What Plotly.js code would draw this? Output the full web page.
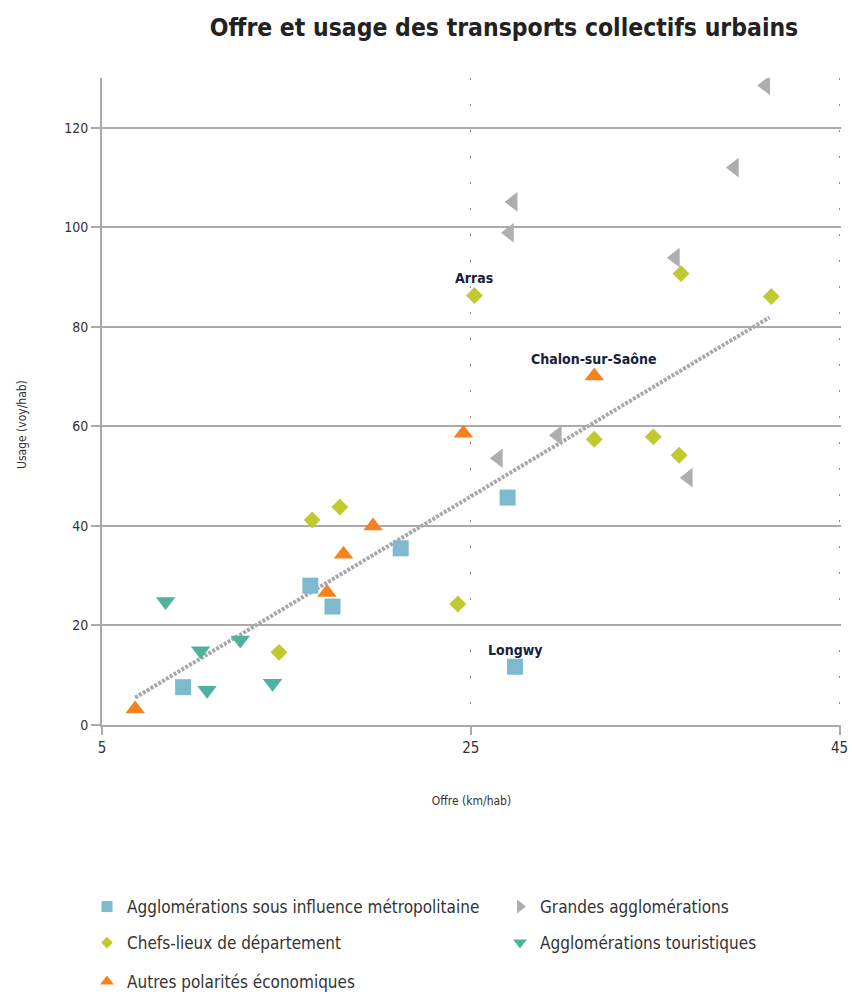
<!DOCTYPE html>
<html>
<head>
<meta charset="utf-8">
<script src="https://cdn.plot.ly/plotly-3.0.1.min.js"></script>
<style>html,body{margin:0;padding:0;background:#fff;}#chart{width:852px;height:994px;}</style>
</head>
<body>
<div id="chart"></div>
<script>
// Series names
const seriesNames = [
  "Agglomérations sous influence métropolitaine",
  "Grandes agglomérations",
  "Chefs-lieux de département",
  "Agglomérations touristiques",
  "Autres polarités économiques"
];
// Agglomérations sous influence métropolitaine
const metroX = [9.4, 16.3, 17.5, 21.2, 27.0, 27.4];
const metroY = [7.6, 28.0, 23.8, 35.5, 45.7, 11.7];
// Grandes agglomérations
const grandesX = [41.0, 39.3, 27.3, 27.1, 36.1, 29.7, 26.5, 36.8];
const grandesY = [128.5, 112.0, 105.1, 98.9, 93.9, 58.2, 53.6, 49.7];
// Chefs-lieux de département
const chefsX = [16.4, 17.9, 14.6, 24.3, 25.2, 36.4, 41.3, 31.7, 34.9, 36.3];
const chefsY = [41.2, 43.8, 14.6, 24.3, 86.3, 90.7, 86.1, 57.4, 57.9, 54.2];
// Agglomérations touristiques
const touristX = [8.45, 10.35, 10.7, 12.5, 14.25];
const touristY = [24.8, 14.9, 7.0, 17.1, 8.4];
// Autres polarités économiques
const autresX = [6.8, 17.2, 18.1, 19.7, 24.6, 31.7];
const autresY = [3.2, 26.6, 34.3, 40.0, 58.6, 70.1];
// Trend line (end points)
const trendX = [6.8, 41.2];
const trendY = [5.5, 81.9];
// Labelled points
const labelText = ["Arras", "Chalon-sur-Saône", "Longwy"];
const labelX = [25.2, 31.7, 27.4];
const labelY = [86.3, 70.1, 11.7];
// Axis ticks and titles
const xTicks = [5, 25, 45];
const yTicks = [0, 20, 40, 60, 80, 100, 120];
const xTitle = "Offre (km/hab)";
const yTitle = "Usage (voy/hab)";

const FONT = "'Liberation Sans Narrow', 'DejaVu Sans Condensed', 'Arial Narrow', sans-serif";
const colors = {
  metro: "#7dbacd",
  grandes: "#adaeb0",
  chefs: "#bfca2f",
  tourist: "#4fb29c",
  autres: "#f5821f"
};

const traces = [
  {x: trendX, y: trendY, mode: "lines", type: "scatter", showlegend: false, hoverinfo: "skip",
   line: {color: "#a8a8a8", width: 4, dash: "3px,1.5px"}},
  {x: metroX, y: metroY, mode: "markers", type: "scatter", name: seriesNames[0], showlegend: false,
   marker: {symbol: "square", size: 16, color: colors.metro}},
  {x: grandesX, y: grandesY, mode: "markers", type: "scatter", name: seriesNames[1], showlegend: false,
   marker: {symbol: "triangle-left", size: 17, color: colors.grandes}},
  {x: chefsX, y: chefsY, mode: "markers", type: "scatter", name: seriesNames[2], showlegend: false,
   marker: {symbol: "diamond", size: 13, color: colors.chefs}},
  {x: touristX, y: touristY, mode: "markers", type: "scatter", name: seriesNames[3], showlegend: false,
   marker: {symbol: "triangle-down", size: 17, color: colors.tourist}},
  {x: autresX, y: autresY, mode: "markers", type: "scatter", name: seriesNames[4], showlegend: false,
   marker: {symbol: "triangle-up", size: 17, color: colors.autres}},
  // legend entries
  {x: [null], y: [null], mode: "markers", type: "scatter", name: seriesNames[0], legend: "legend",
   marker: {symbol: "square", size: 11, color: colors.metro}},
  {x: [null], y: [null], mode: "markers", type: "scatter", name: seriesNames[1], legend: "legend2",
   marker: {symbol: "triangle-right", size: 12, color: colors.grandes}},
  {x: [null], y: [null], mode: "markers", type: "scatter", name: seriesNames[2], legend: "legend3",
   marker: {symbol: "diamond", size: 9, color: colors.chefs}},
  {x: [null], y: [null], mode: "markers", type: "scatter", name: seriesNames[3], legend: "legend4",
   marker: {symbol: "triangle-down", size: 12, color: colors.tourist}},
  {x: [null], y: [null], mode: "markers", type: "scatter", name: seriesNames[4], legend: "legend5",
   marker: {symbol: "triangle-up", size: 12, color: colors.autres}}
];

function legendAt(px, py) {
  return {
    orientation: "v", xref: "container", yref: "container", x: px / 852, y: 1 - py / 994,
    xanchor: "left", yanchor: "middle",
    font: {family: FONT, size: 17, color: "#333"},
    bgcolor: "rgba(0,0,0,0)", borderwidth: 0
  };
}

const annotations = labelText.map((t, i) => ({
  x: labelX[i], y: labelY[i], xref: "x", yref: "y", text: "<b>" + t + "</b>", showarrow: false,
  yshift: 17, font: {family: FONT, size: 14, color: "#14213d"}
}));
annotations.push({
  text: yTitle, textangle: -90, showarrow: false, xref: "paper", yref: "paper",
  x: (22 - 102) / 739, y: (725 - 425) / 647, xanchor: "center", yanchor: "middle",
  font: {family: FONT, size: 12, color: "#333"}
});

const layout = {
  width: 852, height: 994,
  margin: {l: 102, r: 11, t: 78, b: 269, autoexpand: false},
  paper_bgcolor: "#fff", plot_bgcolor: "#fff",
  font: {family: FONT, color: "#333"},
  title: {text: "<b>Offre et usage des transports collectifs urbains</b>", font: {family: FONT, size: 24.5, color: "#222"},
          xref: "paper", x: 0.544, xanchor: "center", yref: "container", y: 1 - 27/994, yanchor: "middle"},
  xaxis: {range: [5, 45.08], tickvals: xTicks, ticktext: xTicks.map(String), showgrid: true, gridcolor: "#888",
          gridwidth: 1.3, griddash: "2px,24px", zeroline: false, showline: true, linecolor: "#aaa", linewidth: 2,
          ticks: "outside", ticklen: 8, tickcolor: "#aaa", tickwidth: 2, automargin: true,
          tickfont: {family: FONT, size: 15, color: "#333"},
          title: {text: xTitle, font: {family: FONT, size: 12, color: "#333"}, standoff: 41}},
  yaxis: {range: [0, 130], tickvals: yTicks, ticktext: yTicks.map(String), showgrid: true, gridcolor: "#aaa",
          gridwidth: 2, zeroline: false, showline: true, linecolor: "#aaa", linewidth: 2,
          ticks: "outside", ticklen: 9, tickcolor: "#aaa", tickwidth: 2, automargin: false,
          tickfont: {family: FONT, size: 14, color: "#333"}},
  legend: legendAt(87, 907),
  legend2: legendAt(500, 907),
  legend3: legendAt(87, 943),
  legend4: legendAt(500, 943),
  legend5: legendAt(87, 982),
  annotations: annotations,
  showlegend: true
};

Plotly.newPlot("chart", traces, layout, {displayModeBar: false, staticPlot: true});
</script>
</body>
</html>
